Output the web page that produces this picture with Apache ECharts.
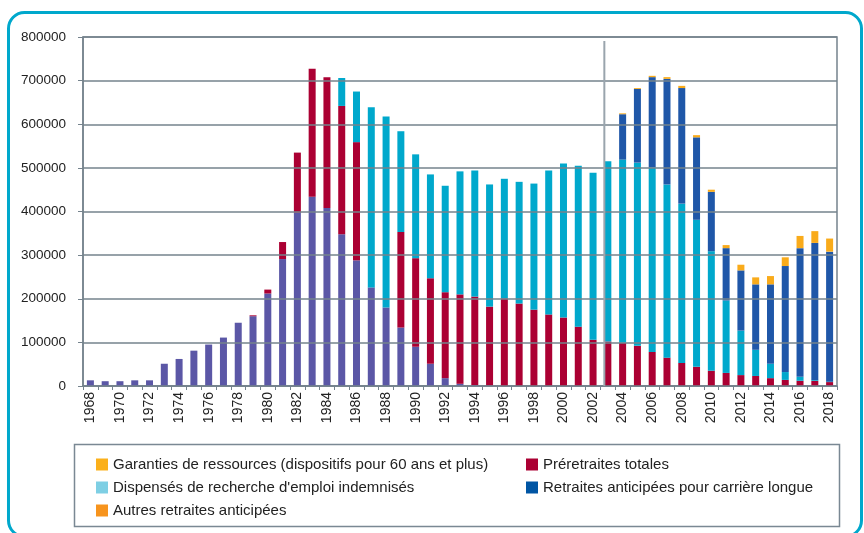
<!DOCTYPE html>
<html>
<head>
<meta charset="utf-8">
<script src="https://cdn.jsdelivr.net/npm/echarts@6/dist/echarts.min.js"></script>
<style>
  html, body { margin: 0; padding: 0; background: #fff; }
  #chart { width: 864px; height: 533px; }
</style>
</head>
<body>
<div id="chart"></div>
<script>
// années
var years = [];
for (var y = 1968; y <= 2018; y++) years.push(String(y));

// Garanties de ressources (barres violettes)
var garanties = [
  13000, 11000, 11000, 13000, 13000, 51000, 62000, 81000, 95000, 111000,
  145000, 160000, 212000, 291000, 397000, 434000, 408000, 348000, 288000, 226000,
  180000, 134000, 90000, 51000, 18000, 5000, 2000, 1000, 0, 0,
  0, 0, 0, 0, 0, 0, 0, 0, 0, 0,
  0, 0, 0, 0, 0, 0, 0, 0, 0, 0,
  0
];
// Préretraites totales
var preretraites = [
  0, 0, 0, 0, 0, 0, 0, 0, 0, 0,
  0, 2000, 9000, 39000, 138000, 293000, 300000, 294000, 271000, 0,
  0, 219000, 203000, 196000, 197000, 205000, 203000, 181000, 201000, 189000,
  175000, 164000, 157000, 136000, 106000, 102000, 99000, 92000, 78000, 65000,
  53000, 44000, 35000, 30000, 25000, 23000, 18000, 14000, 12000, 12000,
  9000
];
// Dispensés de recherche d'emploi indemnisés
var dispenses = [
  0, 0, 0, 0, 0, 0, 0, 0, 0, 0,
  0, 0, 0, 0, 0, 0, 0, 64000, 116000, 413000,
  438000, 231000, 238000, 238000, 244000, 282000, 289000, 280000, 274000, 279000,
  289000, 330000, 353000, 369000, 383000, 413000, 420000, 420000, 423000, 397000,
  365000, 337000, 274000, 166000, 102000, 60000, 33000, 18000, 9000, 2000,
  1000
];
// Retraites anticipées pour carrière longue
var carriereLongue = [
  0, 0, 0, 0, 0, 0, 0, 0, 0, 0,
  0, 0, 0, 0, 0, 0, 0, 0, 0, 0,
  0, 0, 0, 0, 0, 0, 0, 0, 0, 0,
  0, 0, 0, 0, 0, 0, 104000, 169000, 207000, 242000,
  265000, 189000, 136000, 120000, 138000, 150000, 182000, 243000, 295000, 314000,
  298000
];
// Autres retraites anticipées
var autres = [
  0, 0, 0, 0, 0, 0, 0, 0, 0, 0,
  0, 0, 0, 0, 0, 0, 0, 0, 0, 0,
  0, 0, 0, 0, 0, 0, 0, 0, 0, 0,
  0, 0, 0, 0, 0, 0, 2000, 2000, 3000, 4000,
  5000, 5000, 5000, 7000, 13000, 16000, 19000, 20000, 28000, 27000,
  30000
];
var yTicks = [0, 100000, 200000, 300000, 400000, 500000, 600000, 700000, 800000];

var NOM_GAR = 'Garanties de ressources (dispositifs pour 60 ans et plus)';
var NOM_DRE = "Dispensés de recherche d'emploi indemnisés";
var NOM_AUT = 'Autres retraites anticipées';
var NOM_PRE = 'Préretraites totales';
var NOM_RAC = 'Retraites anticipées pour carrière longue';

var police = '"Liberation Sans Narrow", "Liberation Sans", sans-serif';
var gris = '#75838d';

function barre(nom, data, couleur) {
  return {
    name: nom, type: 'bar', stack: 'total', data: data,
    barWidth: 7, itemStyle: { color: couleur }
  };
}

var myChart = echarts.init(document.getElementById('chart'));
var options = {
  animation: false,
  textStyle: { fontFamily: police },
  grid: { left: 83, right: 27, top: 37, bottom: 147, show: true, borderColor: gris, borderWidth: 1.5 },
  legend: [
    {
      orient: 'vertical', left: 91, top: 452, itemWidth: 12, itemHeight: 12, itemGap: 8,
      icon: 'rect', selectedMode: false,
      textStyle: { fontFamily: police, fontSize: 15, color: '#222' },
      data: [
        { name: NOM_GAR, itemStyle: { color: '#fbb01b' } },
        { name: NOM_DRE, itemStyle: { color: '#7ecfe4' } },
        { name: NOM_AUT, itemStyle: { color: '#f7941d' } }
      ]
    },
    {
      orient: 'vertical', left: 521, top: 452, itemWidth: 12, itemHeight: 12, itemGap: 8,
      icon: 'rect', selectedMode: false,
      textStyle: { fontFamily: police, fontSize: 15, color: '#222' },
      data: [
        { name: NOM_PRE, itemStyle: { color: '#ab0033' } },
        { name: NOM_RAC, itemStyle: { color: '#0055a4' } }
      ]
    }
  ],
  xAxis: {
    type: 'category', data: years,
    axisLine: { lineStyle: { color: gris, width: 1.5 } },
    axisTick: { show: true, interval: 0, length: 4, lineStyle: { color: gris } },
    axisLabel: { interval: 1, rotate: 90, fontSize: 14, color: '#222', fontFamily: police, margin: 6 }
  },
  yAxis: {
    type: 'value', min: 0, max: 800000, interval: 100000, z: 5,
    axisLine: { show: true, lineStyle: { color: gris, width: 1.5 } },
    axisTick: { show: true, length: 5, lineStyle: { color: gris } },
    axisLabel: {
      fontSize: 13.5, color: '#222', fontFamily: police, margin: 17,
      formatter: function (v) { return yTicks.indexOf(v) >= 0 ? String(v) : ''; }
    },
    splitLine: { lineStyle: { color: gris, width: 1.5 } }
  },
  series: [
    barre(NOM_GAR, garanties, '#5b57a6'),
    barre(NOM_PRE, preretraites, '#ab0033'),
    barre(NOM_DRE, dispenses, '#00a8cc'),
    barre(NOM_RAC, carriereLongue, '#1f57a8'),
    barre(NOM_AUT, autres, '#f9ab1b')
  ]
};
myChart.setOption(options);

// cadres et trait vertical (rupture de série en 2003)
var x2003 = myChart.convertToPixel({ xAxisIndex: 0 }, '2003') - 3.5;
var yHaut = myChart.convertToPixel({ yAxisIndex: 0 }, 800000) + 4;
var yBas = myChart.convertToPixel({ yAxisIndex: 0 }, 0);
myChart.setOption({
  graphic: [
    {
      type: 'rect', z: -10, silent: true,
      shape: { x: 8.5, y: 12.5, width: 853, height: 524, r: 16 },
      style: { fill: 'none', stroke: '#00a8cc', lineWidth: 3 }
    },
    {
      type: 'rect', z: -5, silent: true,
      shape: { x: 74.5, y: 444.5, width: 765, height: 82 },
      style: { fill: '#fff', stroke: '#7a8893', lineWidth: 1.5 }
    },
    {
      type: 'line', z: 100, silent: true,
      shape: { x1: x2003, y1: yHaut, x2: x2003, y2: yBas },
      style: { stroke: '#9aa5ad', lineWidth: 2 }
    }
  ]
});
</script>
</body>
</html>
